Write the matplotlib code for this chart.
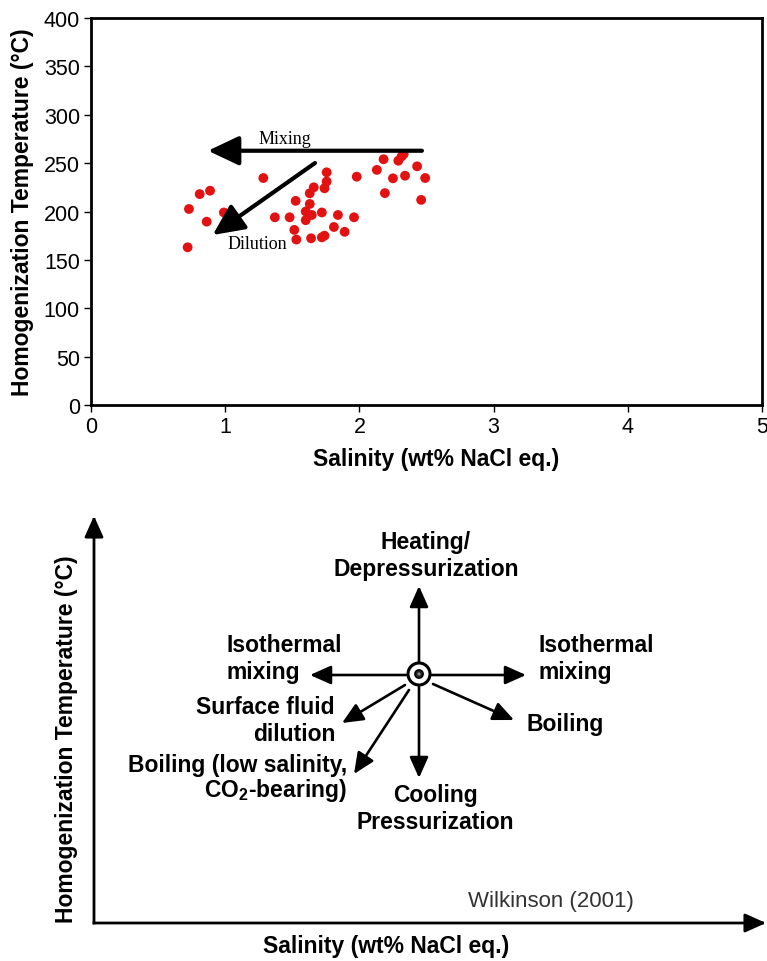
import matplotlib
matplotlib.use("Agg")
import matplotlib.pyplot as plt
from matplotlib.patches import Circle

plt.rcParams['font.family'] = ['Liberation Sans', 'DejaVu Sans']
plt.rcParams['mathtext.fontset'] = 'custom'
plt.rcParams['mathtext.rm'] = 'Liberation Sans:bold'
plt.rcParams['mathtext.bf'] = 'Liberation Sans:bold'

# ---------------- data (top panel) ----------------
salinity = [0.72, 0.73, 0.81, 0.887, 0.862, 0.99, 1.284, 1.37, 1.48, 1.525,
            1.515, 1.53, 1.60, 1.60, 1.63, 1.63, 1.66, 1.645, 1.64, 1.72,
            1.72, 1.74, 1.74, 1.756, 1.756, 1.81, 1.84, 1.89, 1.96, 1.98,
            2.13, 2.18, 2.19, 2.25, 2.29, 2.315, 2.33, 2.34, 2.43, 2.46, 2.49]
th_temp = [163, 202.6, 218, 221.5, 189.5, 199, 234.6, 194, 194, 211,
           181, 171, 200, 191, 207.8, 218.8, 225, 196.4, 172.3, 199,
           173.3, 175, 224, 231, 240.5, 184, 196.4, 179, 194, 236,
           243, 254, 219, 234.3, 252.5, 257, 259.4, 237, 246.7, 212, 234.6]

x_ticks = [0, 1, 2, 3, 4, 5]
y_ticks = [0, 50, 100, 150, 200, 250, 300, 350, 400]

mixing_arrow = [(2.466, 262.8), (0.872, 262.8)]     # tail, tip
dilution_arrow = [(1.669, 250.1), (0.907, 175.7)]  # tail, tip

xlabel = 'Salinity (wt% NaCl eq.)'
ylabel = 'Homogenization Temperature (°C)'

# ---------------- schematic (bottom panel) ----------------
center = (419, 675)
process_labels = ['Heating/\nDepressurization', 'Isothermal\nmixing', 'Isothermal\nmixing',
                  'Boiling', 'Surface fluid\ndilution',
                  'Boiling (low salinity,\nCO$_{\\mathbf{2}}$-bearing)', 'Cooling\nPressurization']
arrow_tails = [(0, -12), (-13, 1), (12, 1), (14, 10), (-14, 11), (-10, 16), (0, 13)]
arrow_tips = [(0, -88), (-109, 1), (107, 1), (95, 46), (-77, 49), (-65, 100), (0, 104)]
label_pos = [(426, 556), (227, 659), (538, 659), (526, 725), (335, 721), (347, 779), (435, 809)]
label_ha = ['center', 'left', 'left', 'left', 'right', 'right', 'center']
label_ls = [1.25, 1.25, 1.25, 1.25, 1.25, 1.02, 1.25]

W, H = 767, 962
fig = plt.figure(figsize=(W / 100, H / 100), dpi=100)

# ---- top axes ----
ax = fig.add_axes([91 / W, 1 - 406 / H, 671 / W, 387 / H])
ax.scatter(salinity, th_temp, s=50, color='#e31212', edgecolors='none', zorder=3)
ax.set_xlim(0, 5)
ax.set_ylim(0, 400)
ax.set_xticks(x_ticks)
ax.set_yticks(y_ticks)
for sp in ax.spines.values():
    sp.set_linewidth(2.0)
ax.tick_params(direction='out', length=5, width=1.0, labelsize=15.5, pad=3)
ax.set_xlabel(xlabel, fontsize=16.5, fontweight='bold')
ax.set_ylabel(ylabel, fontsize=16.5, fontweight='bold', labelpad=7)
ax.xaxis.set_label_coords(0.514, -0.108)

arrow_kw = dict(arrowstyle='-|>,head_length=0.95,head_width=0.45', lw=3.0,
                color='black', mutation_scale=20, shrinkA=0, shrinkB=0)
ax.annotate('', xy=mixing_arrow[1], xytext=mixing_arrow[0], arrowprops=arrow_kw, zorder=4)
ax.annotate('', xy=dilution_arrow[1], xytext=dilution_arrow[0], arrowprops=arrow_kw, zorder=4)
ax.text(1.446, 275, 'Mixing', fontsize=13, family='Liberation Serif', ha='center', va='center')
ax.text(1.237, 167, 'Dilution', fontsize=13, family='Liberation Serif', ha='center', va='center')

# ---- bottom schematic ----
ax2 = fig.add_axes([0, 0, 1, 481 / H])
ax2.set_xlim(0, W)
ax2.set_ylim(H, H - 481)
ax2.axis('off')

axis_kw = dict(arrowstyle='-|>,head_length=0.8,head_width=0.36', lw=2.0,
               color='black', mutation_scale=16, shrinkA=0, shrinkB=0, capstyle='projecting')
ax2.annotate('', xy=(94, 517), xytext=(94, 924), arrowprops=axis_kw)
ax2.annotate('', xy=(766, 924), xytext=(94, 924), arrowprops=axis_kw)
ax2.text(67, 739, ylabel, rotation=90, fontsize=16.5, fontweight='bold', ha='center', va='center')
ax2.text(386, 947, xlabel, fontsize=16.5, fontweight='bold', ha='center', va='center')
ax2.text(468, 902, 'Wilkinson (2001)', fontsize=16, color='#333333', ha='left', va='center')

proc_kw = dict(arrowstyle='-|>,head_length=0.85,head_width=0.38', lw=1.9,
               color='black', mutation_scale=15, shrinkA=0, shrinkB=0)
cx, cy = center
for lab, t, p, lp, ha, ls in zip(process_labels, arrow_tails, arrow_tips, label_pos, label_ha, label_ls):
    ax2.annotate('', xy=(cx + p[0], cy + p[1]), xytext=(cx + t[0], cy + t[1]), arrowprops=proc_kw)
    ax2.text(lp[0], lp[1], lab, fontsize=16.5, fontweight='bold', ha=ha, va='center',
             multialignment=ha, linespacing=ls)

ax2.add_patch(Circle(center, 11, facecolor='white', edgecolor='black', lw=2.2, zorder=5))
ax2.add_patch(Circle(center, 4.2, facecolor='#222222', edgecolor='black', lw=1.0, zorder=6))
ax2.add_patch(Circle(center, 1.6, facecolor='#888888', edgecolor='none', zorder=7))

fig.savefig('out.png', dpi=100)
